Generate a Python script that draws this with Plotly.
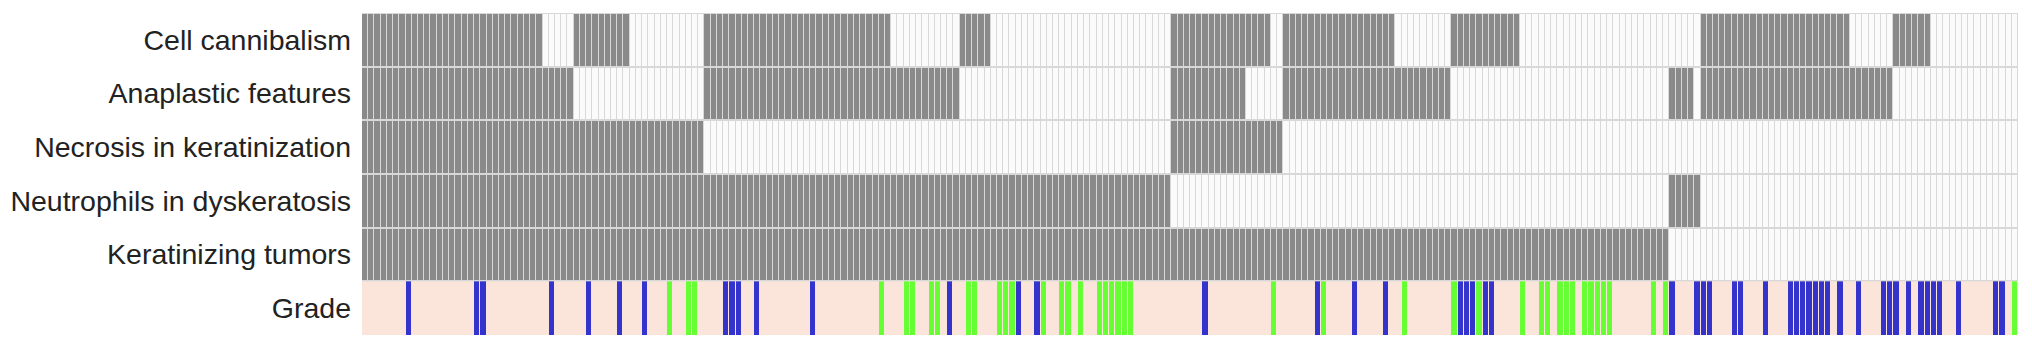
import plotly.graph_objects as go

N_SAMPLES = 266

row_labels = ["Cell cannibalism", "Anaplastic features", "Necrosis in keratinization",
              "Neutrophils in dyskeratosis", "Keratinizing tumors", "Grade"]

# runs of samples (inclusive start, end) where the feature is present
cell_cannibalism = [[0, 28], [34, 42], [55, 84], [96, 100], [130, 145], [148, 165],
                    [175, 185], [215, 238], [246, 251]]
anaplastic_features = [[0, 33], [55, 95], [130, 141], [148, 174], [210, 213], [215, 245]]
necrosis_keratinization = [[0, 54], [130, 147]]
neutrophils_dyskeratosis = [[0, 129], [210, 214]]
keratinizing_tumors = [[0, 209]]

# grade: samples coloured blue / green (others are the peach default)
grade_blue = [7, 18, 19, 30, 36, 41, 45, 58, 59, 60, 63, 72, 94, 105, 108, 135, 153, 159,
              164, 176, 177, 178, 180, 181, 210, 214, 215, 216, 220, 221, 225, 229, 230,
              231, 232, 233, 234, 235, 237, 240, 244, 245, 246, 248, 250, 251, 252, 253,
              256, 262, 263]
grade_green = [49, 52, 53, 83, 87, 88, 91, 92, 97, 98, 102, 103, 104, 109, 112, 113, 115,
               118, 119, 120, 121, 122, 123, 146, 154, 167, 175, 179, 186, 189, 190, 192,
               193, 194, 196, 197, 198, 199, 200, 207, 209, 265]

GREY = "#8a8a8a"
WHITE = "#fbfbfb"
GAP = "#d8d8d8"
PEACH = "#fbe5da"
BLUE = "#3434cc"
GREEN = "#66ff33"


def runs_to_row(runs):
    row = [0] * N_SAMPLES
    for s, e in runs:
        for i in range(s, e + 1):
            row[i] = 1
    return row


feature_rows = [cell_cannibalism, anaplastic_features, necrosis_keratinization,
                neutrophils_dyskeratosis, keratinizing_tumors]
z_feat = [runs_to_row(r) for r in feature_rows]
x = list(range(N_SAMPLES))

grade_fg = [None] * N_SAMPLES
for i in grade_blue:
    grade_fg[i] = 0
for i in grade_green:
    grade_fg[i] = 1

fig = go.Figure()
fig.add_trace(go.Heatmap(
    z=z_feat, x=x, y=[0, 1, 2, 3, 4], zmin=0, zmax=1,
    colorscale=[[0, WHITE], [0.5, WHITE], [0.5, GREY], [1, GREY]],
    showscale=False, xgap=1, ygap=2, hoverinfo="skip"))
fig.add_trace(go.Heatmap(
    z=[[0] * N_SAMPLES], x=x, y=[5], zmin=0, zmax=1,
    colorscale=[[0, PEACH], [1, PEACH]], showscale=False, hoverinfo="skip"))
fig.add_trace(go.Heatmap(
    z=[grade_fg], x=x, y=[5], zmin=0, zmax=1,
    colorscale=[[0, BLUE], [0.5, BLUE], [0.5, GREEN], [1, GREEN]],
    showscale=False, xgap=1, hoverinfo="skip"))

fig.update_layout(
    width=2024, height=341,
    margin=dict(l=354, r=14, t=5, b=14, autoexpand=False),
    paper_bgcolor="white", plot_bgcolor=GAP,
    font=dict(family="Liberation Sans, Arial, Helvetica, sans-serif", size=28.5, color="#222222"),
)
fig.update_xaxes(range=[-0.5, N_SAMPLES - 0.5], showticklabels=False, showgrid=False,
                 zeroline=False, ticks="", automargin=False)
fig.update_yaxes(range=[5.5, -0.5], tickvals=list(range(6)), ticktext=row_labels,
                 showgrid=False, zeroline=False, ticks="", ticklabelstandoff=10,
                 automargin=False)

fig.write_html("out.html")
